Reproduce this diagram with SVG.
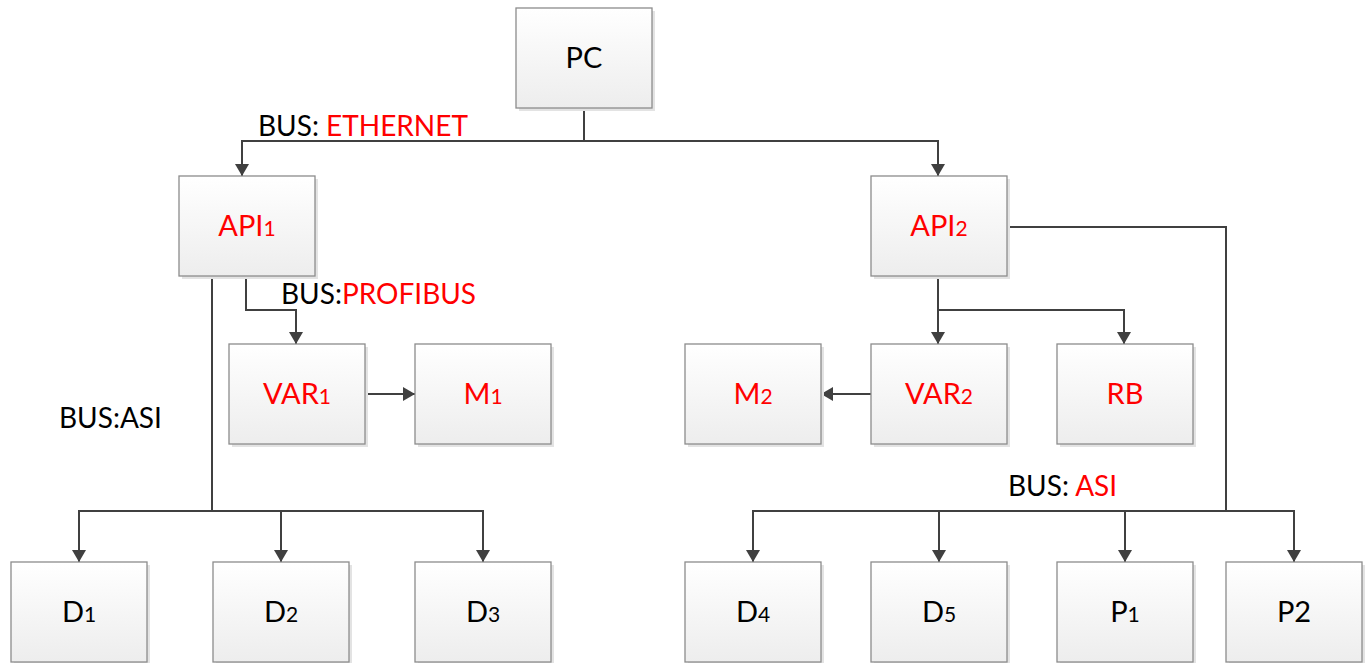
<svg xmlns="http://www.w3.org/2000/svg" width="1366" height="663" viewBox="0 0 1366 663">
  <defs>
    <linearGradient id="boxFill" x1="0" y1="0" x2="0" y2="1">
      <stop offset="0" stop-color="#ffffff"/>
      <stop offset="1" stop-color="#ededed"/>
    </linearGradient>
    <marker id="arrow" viewBox="0 0 12 14" refX="12" refY="7" markerWidth="12" markerHeight="14" markerUnits="userSpaceOnUse" orient="auto">
      <path d="M0,0 L12,7 L0,14 Z" fill="#404040"/>
    </marker>
    <style>
      .shadow { fill: #e3e3e3; }
      .box { fill: url(#boxFill); stroke: #8c8c8c; stroke-width: 1.3; }
      .lbl { font-family: Lato, "Open Sans", sans-serif; font-size: 29px; text-anchor: middle; fill: #000; }
      .red { fill: #ff0000; }
      .sub { font-size: 21px; }
      .bus { font-family: Lato, "Open Sans", sans-serif; font-size: 28px; fill: #000; }
      .wire { fill: none; stroke: #404040; stroke-width: 2; }
      .arr { marker-end: url(#arrow); }
    </style>
  </defs>
  <rect width="1366" height="663" fill="#ffffff"/>

  <!-- connectors -->
  <g id="connectors">
    <!-- Ethernet trunk from PC -->
    <path class="wire" d="M584,109 V141"/>
    <path class="wire arr" d="M584,141 H242 V176"/>
    <path class="wire arr" d="M584,141 H938 V176"/>
    <!-- Profibus: API1 to VAR1, VAR1 to M1 -->
    <path class="wire arr" d="M246,277 V310 H296 V344"/>
    <path class="wire arr" d="M365,394 H415"/>
    <!-- ASI bus on the left -->
    <path class="wire" d="M212,277 V511"/>
    <path class="wire arr" d="M212,511 H79 V562"/>
    <path class="wire arr" d="M212,511 H281 V562"/>
    <path class="wire arr" d="M212,511 H483 V562"/>
    <!-- API2 to VAR2 and RB, VAR2 to M2 -->
    <path class="wire arr" d="M938,277 V344"/>
    <path class="wire arr" d="M938,310 H1124 V344"/>
    <path class="wire arr" d="M871,394 H821"/>
    <!-- ASI bus on the right -->
    <path class="wire" d="M1007,227 H1226 V511"/>
    <path class="wire arr" d="M1226,511 H753 V562"/>
    <path class="wire arr" d="M939,511 V562"/>
    <path class="wire arr" d="M1125,511 V562"/>
    <path class="wire arr" d="M1226,511 H1294 V562"/>
  </g>

  <!-- bus labels -->
  <g id="bus-labels">
    <text class="bus" x="258" y="136">BUS: <tspan class="red">ETHERNET</tspan></text>
    <text class="bus" x="281" y="304">BUS:<tspan class="red">PROFIBUS</tspan></text>
    <text class="bus" x="59" y="428">BUS:ASI</text>
    <text class="bus" x="1008" y="496">BUS: <tspan class="red">ASI</tspan></text>
  </g>

  <g id="pc">
    <rect class="shadow" x="519" y="11" width="136" height="100"/>
    <rect class="box" x="516" y="8" width="136" height="100"/>
    <text class="lbl" x="584" y="68">PC</text>
  </g>
  <g id="api1">
    <rect class="shadow" x="182" y="179" width="136" height="100"/>
    <rect class="box" x="179" y="176" width="136" height="100"/>
    <text class="lbl red" x="247" y="236">API<tspan class="sub">1</tspan></text>
  </g>
  <g id="api2">
    <rect class="shadow" x="874" y="179" width="136" height="100"/>
    <rect class="box" x="871" y="176" width="136" height="100"/>
    <text class="lbl red" x="939" y="236">API<tspan class="sub">2</tspan></text>
  </g>
  <g id="var1">
    <rect class="shadow" x="232" y="347" width="136" height="100"/>
    <rect class="box" x="229" y="344" width="136" height="100"/>
    <text class="lbl red" x="297" y="404">VAR<tspan class="sub">1</tspan></text>
  </g>
  <g id="m1">
    <rect class="shadow" x="418" y="347" width="136" height="100"/>
    <rect class="box" x="415" y="344" width="136" height="100"/>
    <text class="lbl red" x="483" y="404">M<tspan class="sub">1</tspan></text>
  </g>
  <g id="m2">
    <rect class="shadow" x="688" y="347" width="136" height="100"/>
    <rect class="box" x="685" y="344" width="136" height="100"/>
    <text class="lbl red" x="753" y="404">M<tspan class="sub">2</tspan></text>
  </g>
  <g id="var2">
    <rect class="shadow" x="874" y="347" width="136" height="100"/>
    <rect class="box" x="871" y="344" width="136" height="100"/>
    <text class="lbl red" x="939" y="404">VAR<tspan class="sub">2</tspan></text>
  </g>
  <g id="rb">
    <rect class="shadow" x="1060" y="347" width="136" height="100"/>
    <rect class="box" x="1057" y="344" width="136" height="100"/>
    <text class="lbl red" x="1125" y="404">RB</text>
  </g>
  <g id="d1">
    <rect class="shadow" x="14" y="565" width="136" height="100"/>
    <rect class="box" x="11" y="562" width="136" height="100"/>
    <text class="lbl" x="79" y="622">D<tspan class="sub">1</tspan></text>
  </g>
  <g id="d2">
    <rect class="shadow" x="216" y="565" width="136" height="100"/>
    <rect class="box" x="213" y="562" width="136" height="100"/>
    <text class="lbl" x="281" y="622">D<tspan class="sub">2</tspan></text>
  </g>
  <g id="d3">
    <rect class="shadow" x="418" y="565" width="136" height="100"/>
    <rect class="box" x="415" y="562" width="136" height="100"/>
    <text class="lbl" x="483" y="622">D<tspan class="sub">3</tspan></text>
  </g>
  <g id="d4">
    <rect class="shadow" x="688" y="565" width="136" height="100"/>
    <rect class="box" x="685" y="562" width="136" height="100"/>
    <text class="lbl" x="753" y="622">D<tspan class="sub">4</tspan></text>
  </g>
  <g id="d5">
    <rect class="shadow" x="874" y="565" width="136" height="100"/>
    <rect class="box" x="871" y="562" width="136" height="100"/>
    <text class="lbl" x="939" y="622">D<tspan class="sub">5</tspan></text>
  </g>
  <g id="p1">
    <rect class="shadow" x="1060" y="565" width="136" height="100"/>
    <rect class="box" x="1057" y="562" width="136" height="100"/>
    <text class="lbl" x="1125" y="622">P<tspan class="sub">1</tspan></text>
  </g>
  <g id="p2">
    <rect class="shadow" x="1229" y="565" width="136" height="100"/>
    <rect class="box" x="1226" y="562" width="136" height="100"/>
    <text class="lbl" x="1294" y="622">P2</text>
  </g>
</svg>
